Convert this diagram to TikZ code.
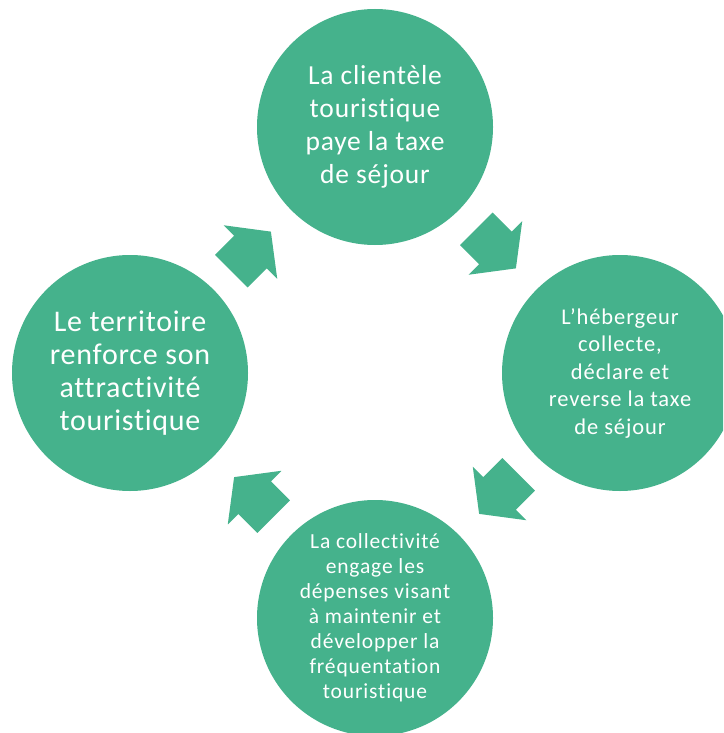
\documentclass[tikz,border=0pt]{standalone}
\usepackage{fontspec}
\setmainfont{Carlito}[Ligatures=NoCommon]
\definecolor{cyc}{RGB}{69,178,140}
\tikzset{
  stage/.style={circle, fill=cyc, minimum size=236pt, inner sep=0pt, text=white, align=center},
  toptext/.style={font=\addfontfeatures{LetterSpace=3}\fontsize{27.5}{33}\selectfont},
  lefttext/.style={font=\addfontfeatures{LetterSpace=2.5}\fontsize{30}{33}\selectfont},
  midtext/.style={font=\addfontfeatures{LetterSpace=4}\fontsize{22.5}{27.5}\selectfont},
  smalltext/.style={font=\addfontfeatures{LetterSpace=4}\fontsize{21.5}{25}\selectfont},
  pics/cyclearrow/.style={code={
    \fill[cyc] (-30,-23) -- (-3,-23) -- (-3,-38) -- (26,0) -- (-3,38) -- (-3,23) -- (-30,23) -- cycle;
  }}
}
\begin{document}
\begin{tikzpicture}[x=1pt,y=-1pt]
\clip (0,0) rectangle (723,733);
\node[stage,toptext] (top) at (375,127) {La clientèle\\touristique\\paye la taxe\\de séjour};
\node[stage,midtext] (right) at (620,373) {L’hébergeur\\collecte,\\déclare et\\reverse la taxe\\de séjour};
\node[stage,smalltext] (bottom) at (375,618) {La collectivité\\engage les\\dépenses visant\\à maintenir et\\développer la\\fréquentation\\touristique};
\node[stage,lefttext] (left) at (130,373) {Le territoire\\renforce son\\attractivité\\touristique};
\path (top.center) -- (right.center) coordinate[pos=0.5] (m1);
\path (right.center) -- (bottom.center) coordinate[pos=0.5] (m2);
\path (bottom.center) -- (left.center) coordinate[pos=0.5] (m3);
\path (left.center) -- (top.center) coordinate[pos=0.5] (m4);
\pic[rotate=-45] at (m1) {cyclearrow};
\pic[rotate=-135] at (m2) {cyclearrow};
\pic[rotate=135] at (m3) {cyclearrow};
\pic[rotate=45] at (m4) {cyclearrow};
\end{tikzpicture}
\end{document}
